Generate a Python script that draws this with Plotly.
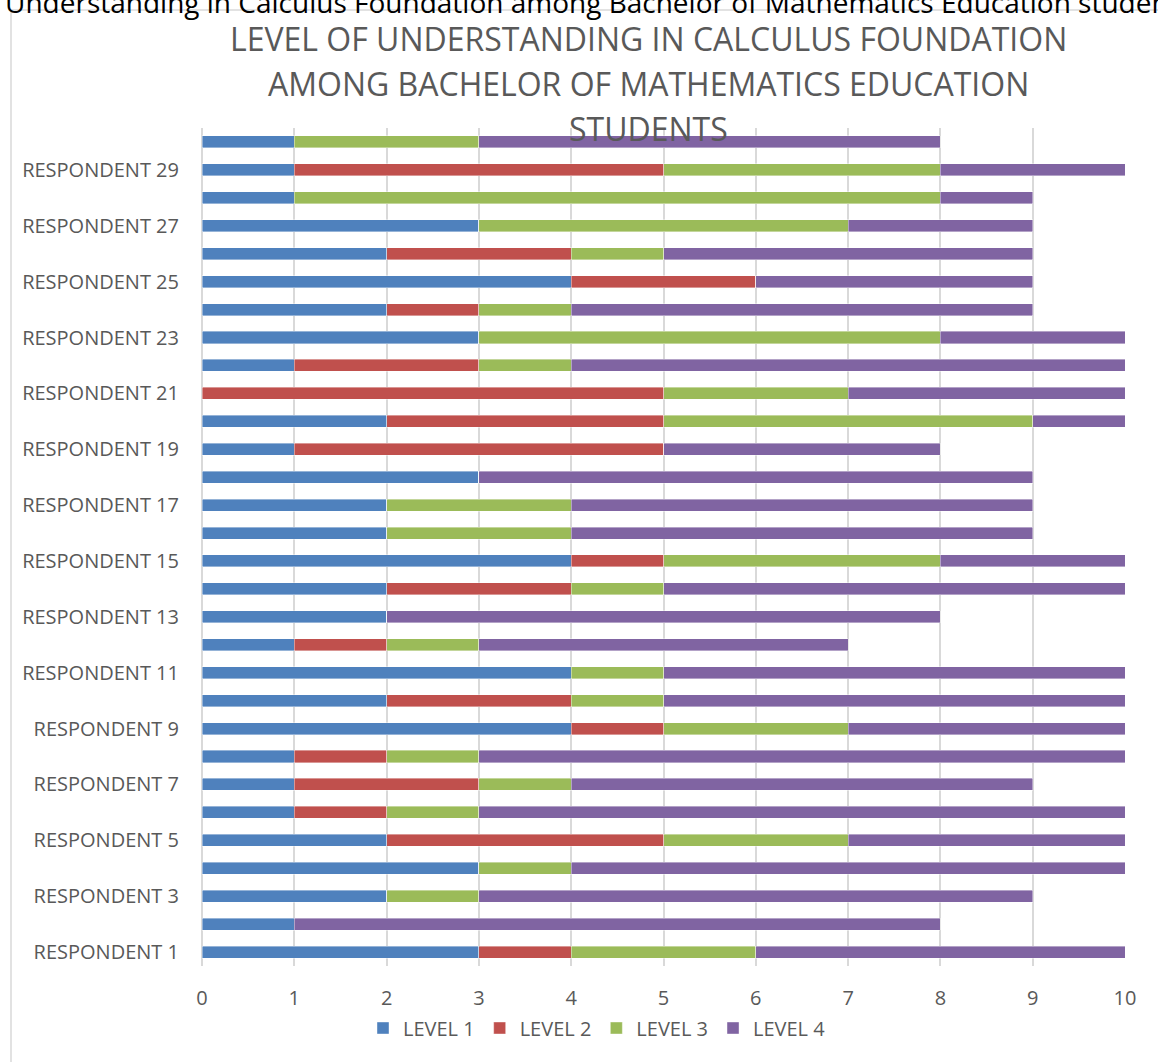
import plotly.graph_objects as go

respondents = [f"RESPONDENT {i}" for i in range(1, 31)]
level1 = [3, 1, 2, 3, 2, 1, 1, 1, 4, 2, 4, 1, 2, 2, 4, 2, 2, 3, 1, 2, 0, 1, 3, 2, 4, 2, 3, 1, 1, 1]
level2 = [1, 0, 0, 0, 3, 1, 2, 1, 1, 2, 0, 1, 0, 2, 1, 0, 0, 0, 4, 3, 5, 2, 0, 1, 2, 2, 0, 0, 4, 0]
level3 = [2, 0, 1, 1, 2, 1, 1, 1, 2, 1, 1, 1, 0, 1, 3, 2, 2, 0, 0, 4, 2, 1, 5, 1, 0, 1, 4, 7, 3, 2]
level4 = [4, 7, 6, 6, 3, 7, 5, 7, 3, 5, 5, 4, 6, 5, 2, 5, 5, 6, 3, 1, 3, 6, 2, 5, 3, 4, 2, 1, 2, 5]
series_names = ["LEVEL 1", "LEVEL 2", "LEVEL 3", "LEVEL 4"]
colors = ["#4f81bd", "#c0504d", "#9bbb59", "#8064a2"]
x_ticks = list(range(0, 11))
y_ticks = [respondents[i] for i in range(0, 30, 2)]

title_lines = ["LEVEL OF UNDERSTANDING IN CALCULUS FOUNDATION",
               "AMONG BACHELOR OF MATHEMATICS EDUCATION",
               "STUDENTS"]
top_text = "Understanding in Calculus Foundation among Bachelor of Mathematics Education students"

W, H = 1158, 1062
L, R, T, B = 202, 1125, 128, 966

def px(x):
    return (x - L) / (R - L)

def py(y):
    return (B - y) / (B - T)

fig = go.Figure()
for name, vals, col in zip(series_names, [level1, level2, level3, level4], colors):
    fig.add_trace(go.Bar(
        y=respondents, x=vals, name=name, orientation="h",
        marker=dict(color=col, line=dict(color="rgba(255,255,255,0.5)", width=0.8)),
    ))

annotations = []
for txt, yc in zip(title_lines, [38, 83, 128]):
    annotations.append(dict(text=txt, xref="paper", yref="paper", x=px(648), y=py(yc),
                            xanchor="center", yanchor="middle", showarrow=False,
                            font=dict(family="Open Sans", size=32, color="#595959")))
annotations.append(dict(text=top_text, xref="paper", yref="paper", x=px(3), y=py(23),
                        xanchor="left", yanchor="bottom", showarrow=False,
                        font=dict(family="Open Sans", size=28, color="#000000")))

shapes = [
    dict(type="line", xref="paper", yref="paper", x0=px(11), x1=px(11), y0=py(1064), y1=py(10),
         line=dict(color="#d9d9d9", width=1.5)),
    dict(type="line", xref="paper", yref="paper", x0=px(11), x1=px(1160), y0=py(10), y1=py(10),
         line=dict(color="#d9d9d9", width=1.5)),
]

fig.update_layout(
    width=W, height=H, barmode="stack", bargap=0.57,
    margin=dict(l=L, r=W - R, t=T, b=H - B, autoexpand=False),
    paper_bgcolor="white", plot_bgcolor="white",
    font=dict(family="Open Sans", color="#595959", size=20),
    annotations=annotations, shapes=shapes,
    legend=dict(orientation="h", x=px(597), xanchor="center", y=py(1028), yanchor="middle",
                font=dict(size=20, color="#595959"), traceorder="normal",
                itemwidth=30, tracegroupgap=0),
    xaxis=dict(range=[0, 10], tickvals=x_ticks, showgrid=True, gridcolor="#d9d9d9", gridwidth=1.5,
               zeroline=True, zerolinecolor="#d9d9d9", zerolinewidth=1.5,
               showline=False, ticks="", tickfont=dict(size=20, color="#595959"),
               ticklabelstandoff=18),
    yaxis=dict(categoryorder="array", categoryarray=respondents, tickvals=y_ticks,
               showgrid=False, ticks="", tickfont=dict(size=20, color="#595959"),
               range=[-0.5, 29.5], ticklabelstandoff=22),
    showlegend=True,
)
fig.write_html("out.html", config={"displayModeBar": False},
               post_script="document.body.style.margin='0px';document.body.style.overflow='hidden';")
